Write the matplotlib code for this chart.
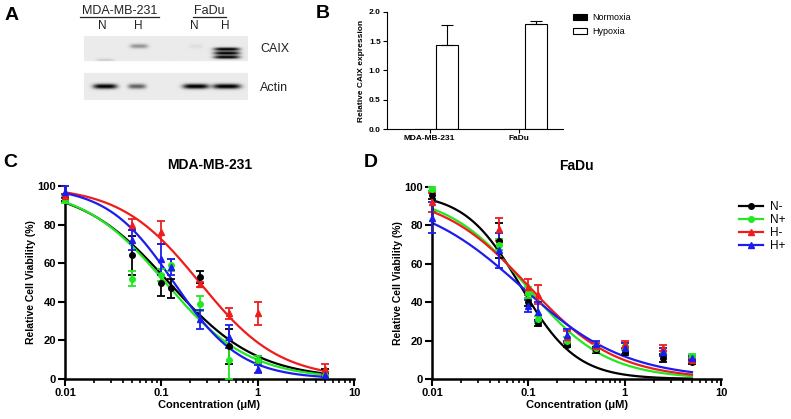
import numpy as np
import matplotlib
matplotlib.use("Agg")
import matplotlib.pyplot as plt
from matplotlib.lines import Line2D

plt.rcParams['font.family'] = ['Liberation Sans', 'DejaVu Sans']

# ---------------- data ----------------
# Panel A (western blot band darkness, 0..1)
blot_lanes = ["MDA N", "MDA H", "FaDu N", "FaDu H"]
caix_darkness = [0.06, 0.35, 0.05, 0.95]
actin_darkness = [0.95, 0.55, 0.97, 0.97]

# Panel B
b_categories = ["MDA-MB-231", "FaDu"]
b_normoxia = [0.0, 0.0]
b_hypoxia = [1.43, 1.79]
b_hypoxia_err = [0.34, 0.06]

# Panel C (MDA-MB-231)
conc_c = [0.01, 0.05, 0.1, 0.125, 0.25, 0.5, 1, 5]
c_mean = {
    "N-": [94, 64, 50, 47, 53, 17, 10, 3],
    "N+": [93, 52, 54, 59, 39, 10, 10, 2],
    "H-": [95, 80, 76, np.nan, 49, 34, 34, 5],
    "H+": [97, 72, 62, 58, 31, 22, 5, 2],
}
c_err = {
    "N-": [2, 10, 7, 5, 3, 9, 2, 2],
    "N+": [2, 4, 3, 3, 4, 10, 2, 1],
    "H-": [1, 3, 6, np.nan, 1.5, 3, 6, 3],
    "H+": [3, 5, 8, 4, 5, 6, 2, 1],
}
# 4PL fit parameters: top, bottom, EC50, hill
c_fit = {
    "N-": (100, 0, 0.12, 0.95),
    "N+": (100, 0, 0.11, 1.0),
    "H-": (100, 0, 0.25, 1.05),
    "H+": (100, 0, 0.135, 1.25),
}

# Panel D (FaDu)
conc_d = [0.01, 0.05, 0.1, 0.125, 0.25, 0.5, 1, 2.5, 5]
d_mean = {
    "N-": [96, 72, 40, 29, 17.5, 15, 14, 11, 9],
    "N+": [99, 70, 45, 31, 20, 16, 17, 14, 12],
    "H-": [92, 78, 48, 44, 22, 17, 18, 16, 10],
    "H+": [84, 67, 38, 35, 23, 18, 16, 14, 11],
}
d_err = {
    "N-": [2, 9, 2, 1.5, 1, 1.5, 1.5, 2, 1],
    "N+": [1, 3, 3, 2, 2, 2, 2, 2, 1],
    "H-": [5, 6, 4, 5, 3, 2, 2, 1.5, 1],
    "H+": [8, 9, 3, 5, 3, 2, 3, 2, 1],
}
d_fit = {
    "N-": (97, 0, 0.083, 1.5),
    "N+": (97, 0, 0.095, 1.05),
    "H-": (97, 0, 0.10, 0.95),
    "H+": (96, 0, 0.085, 0.8),
}

series = ["N-", "N+", "H-", "H+"]
colors = {"N-": "#000000", "N+": "#22e822", "H-": "#ee1c1c", "H+": "#1c1cee"}
markers = {"N-": "o", "N+": "o", "H-": "^", "H+": "^"}

# ---------------- figure ----------------
W, H = 791, 419
fig = plt.figure(figsize=(W / 100, H / 100), dpi=100)


def rect(x0, y0, x1, y1):
    return [x0 / W, 1 - y1 / H, (x1 - x0) / W, (y1 - y0) / H]


def ftext(x, y, s, **kw):
    fig.text(x / W, 1 - y / H, s, **kw)


# Panel letters
for letter, (x, y) in {"A": (5, 16), "B": (316, 13), "C": (3, 162), "D": (364, 162)}.items():
    ftext(x, y, letter, fontsize=14, fontweight="bold", va="center", ha="left")

# ---------------- Panel A: blot ----------------
axA = fig.add_axes(rect(84, 36, 248, 100))
xs = np.linspace(84, 248, 330)
ys = np.linspace(36, 100, 130)
X, Y = np.meshgrid(xs, ys)
img = np.zeros_like(X)
strip_caix = (Y >= 36) & (Y <= 61)
strip_actin = (Y >= 73) & (Y <= 100)
img[strip_caix | strip_actin] = 0.08
lane_cx = [105, 139, 196, 227]
caix_w = [9, 9, 7, 13]
actin_w = [12, 9, 13, 14]
for i, name in enumerate(blot_lanes):
    # CAIX
    if name == "FaDu H":
        for cy in (49, 53, 57):
            img += caix_darkness[i] * np.exp(-((X - lane_cx[i]) / caix_w[i]) ** 4) * np.exp(-((Y - cy) / 1.7) ** 2)
    elif name == "MDA N":
        img += caix_darkness[i] * 2 * np.exp(-((X - lane_cx[i]) / caix_w[i]) ** 4) * np.exp(-((Y - 60) / 1.5) ** 2)
    else:
        img += caix_darkness[i] * np.exp(-((X - lane_cx[i]) / caix_w[i]) ** 4) * np.exp(-((Y - 46) / 2.2) ** 2)
    # Actin
    img += actin_darkness[i] * np.exp(-((X - lane_cx[i] + (2 if i == 1 else 0)) / actin_w[i]) ** 4) * np.exp(-((Y - 86.5) / 2.5) ** 2)
img = np.clip(img, 0, 1)
img[~(strip_caix | strip_actin)] = 0
axA.imshow(img, cmap="gray_r", vmin=0, vmax=1, extent=(84, 248, 100, 36), aspect="auto", interpolation="bilinear")
axA.set_xlim(84, 248)
axA.set_ylim(100, 36)
axA.axis("off")

ftext(120, 11, "MDA-MB-231", fontsize=9, ha="center", va="center", color="#222222")
ftext(209, 11, "FaDu", fontsize=9, ha="center", va="center", color="#222222")
fig.add_artist(Line2D([80 / W, 159 / W], [1 - 17 / H, 1 - 17 / H], color="#222222", lw=0.9))
fig.add_artist(Line2D([193 / W, 226 / W], [1 - 17 / H, 1 - 17 / H], color="#222222", lw=0.9))
for x, s in [(102, "N"), (138, "H"), (194, "N"), (225, "H")]:
    ftext(x, 26, s, fontsize=8.5, ha="center", va="center", color="#222222")
ftext(260, 49, "CAIX", fontsize=9, ha="left", va="center", color="#222222")
ftext(260, 88, "Actin", fontsize=9, ha="left", va="center", color="#222222")

# ---------------- Panel B ----------------
axB = fig.add_axes(rect(387, 12, 563, 129))
pos = np.arange(len(b_categories))
bw = 0.25
axB.bar(pos - bw / 2, b_normoxia, bw, color="black", edgecolor="black", lw=0.8, label="Normoxia")
axB.bar(pos + bw / 2, b_hypoxia, bw, color="white", edgecolor="black", lw=0.8, label="Hypoxia")
axB.errorbar(pos + bw / 2, b_hypoxia, yerr=[np.zeros(len(pos)), b_hypoxia_err], fmt="none",
             ecolor="black", elinewidth=0.8, capsize=4, capthick=0.8)
axB.set_xlim(-0.55, 1.43)
axB.set_ylim(0, 2.0)
axB.set_yticks([0, 0.5, 1.0, 1.5, 2.0])
axB.set_yticklabels(["0.0", "0.5", "1.0", "1.5", "2.0"])
axB.set_xticks(pos - 0.07)
axB.set_xticklabels(b_categories)
for s in ["top", "right"]:
    axB.spines[s].set_visible(False)
for s in ["left", "bottom"]:
    axB.spines[s].set_linewidth(0.8)
axB.tick_params(direction="out", length=3, width=0.8, labelsize=6, pad=1.5)
for t in axB.get_xticklabels() + axB.get_yticklabels():
    t.set_fontweight("bold")
axB.set_ylabel("Relative CAIX expression", fontsize=6, fontweight="bold", labelpad=3)
axB.legend(loc="upper left", bbox_to_anchor=(573 / W, 1 - 13 / H), bbox_transform=fig.transFigure,
           frameon=False, fontsize=6.5, handlelength=1.6, handleheight=0.7, labelspacing=0.55,
           handletextpad=0.5, borderaxespad=0, borderpad=0)


# ---------------- Panels C & D ----------------
def fourpl(x, top, bottom, ec50, hill):
    return bottom + (top - bottom) / (1 + (x / ec50) ** hill)


def curve_panel(ax, conc, means, errs, fits, title):
    xx = np.logspace(np.log10(conc[0]), np.log10(conc[-1]), 300)
    for s in series:
        ax.plot(xx, fourpl(xx, *fits[s]), color=colors[s], lw=1.6, zorder=2)
        ax.errorbar(conc, means[s], yerr=errs[s], fmt=markers[s], color=colors[s], ms=4,
                    elinewidth=1.3, capsize=3, capthick=1.3, zorder=3, clip_on=False)
    ax.set_xscale("log")
    ax.set_xlim(0.01, 10)
    ax.set_ylim(0, 100)
    ax.set_yticks([0, 20, 40, 60, 80, 100])
    ax.set_xticks([0.01, 0.1, 1, 10])
    ax.set_xticklabels(["0.01", "0.1", "1", "10"])
    for s in ["top", "right"]:
        ax.spines[s].set_visible(False)
    for s in ["left", "bottom"]:
        ax.spines[s].set_linewidth(1.8)
    ax.tick_params(which="major", direction="out", length=5, width=1.5, labelsize=8, pad=1.5)
    ax.tick_params(which="minor", direction="out", length=3, width=1.2)
    for t in ax.get_xticklabels() + ax.get_yticklabels():
        t.set_fontweight("bold")
    ax.set_xlabel("Concentration (\u03bcM)", fontsize=8, fontweight="bold", labelpad=1.5)
    ax.set_ylabel("Relative Cell Viability (%)", fontsize=7.5, fontweight="bold", labelpad=1)
    ax.set_title(title, fontsize=10, fontweight="bold", pad=12)


axC = fig.add_axes(rect(65, 186, 354, 379))
curve_panel(axC, conc_c, c_mean, c_err, c_fit, "MDA-MB-231")
axD = fig.add_axes(rect(432, 187, 721, 379))
curve_panel(axD, conc_d, d_mean, d_err, d_fit, "FaDu")

handles = [Line2D([], [], color=colors[s], marker=markers[s], ms=4, lw=1.6) for s in series]
axD.legend(handles, series, loc="upper left", bbox_to_anchor=(739 / W, 1 - 201 / H),
           bbox_transform=fig.transFigure, frameon=False, fontsize=8.5, handlelength=2.0,
           labelspacing=0.08, handletextpad=0.6, borderaxespad=0, borderpad=0)

fig.savefig("out.png", dpi=100)
